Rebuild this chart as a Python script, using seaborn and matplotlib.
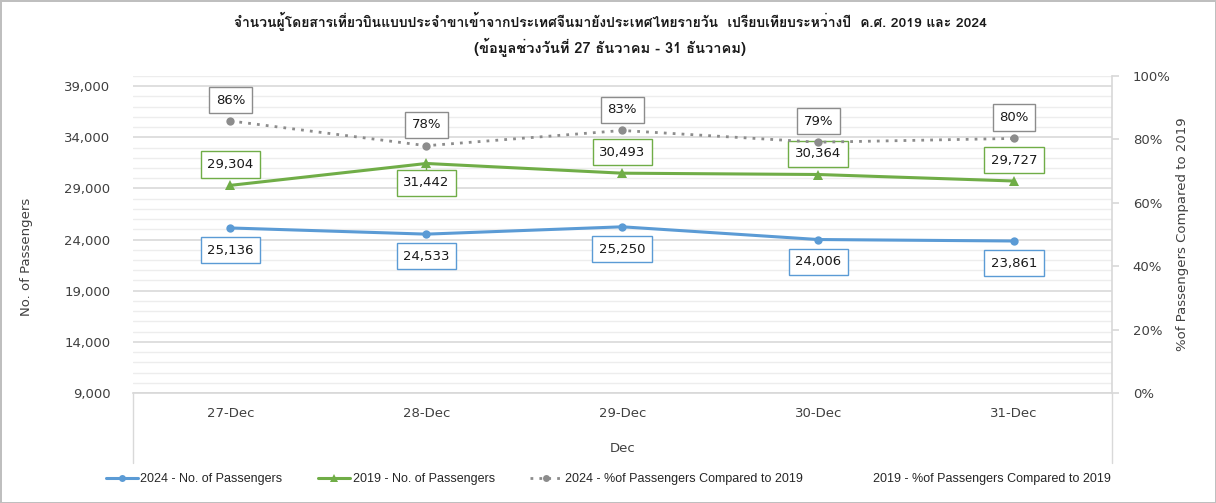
import numpy as np
import pandas as pd
import seaborn as sns
import matplotlib
matplotlib.use('Agg')
import matplotlib.pyplot as plt
from matplotlib import font_manager
from matplotlib.ft2font import FT2Font
from matplotlib.lines import Line2D
from matplotlib.ticker import FixedLocator, FuncFormatter

# data
days = ['27-Dec', '28-Dec', '29-Dec', '30-Dec', '31-Dec']
pax_2024 = [25136, 24533, 25250, 24006, 23861]
pax_2019 = [29304, 31442, 30493, 30364, 29727]
pct_2024 = [0.858, 0.780, 0.828, 0.791, 0.803]

title_1 = 'จำนวนผู้โดยสารเที่ยวบินแบบประจำขาเข้าจากประเทศจีนมายังประเทศไทยรายวัน  เปรียบเทียบระหว่างปี  ค.ศ. 2019 และ 2024'
title_2 = '(ข้อมูลช่วงวันที่ 27 ธันวาคม - 31 ธันวาคม)'

blue = '#5B9BD5'
green = '#70AD47'
grey = '#8C8C8C'

sns.set_theme(style='white')

# find a font that has Thai glyphs
thai_fonts = []
for fe in font_manager.fontManager.ttflist:
    try:
        if 0x0E08 in FT2Font(fe.fname).get_charmap():
            if fe.name not in thai_fonts:
                thai_fonts.append(fe.name)
    except Exception:
        pass
installed = {fe.name for fe in font_manager.fontManager.ttflist}
plt.rcParams['font.family'] = ['DejaVu Sans'] + thai_fonts
title_family = thai_fonts + ['DejaVu Sans']
narrow = 'Liberation Sans Narrow' if 'Liberation Sans Narrow' in installed else 'Liberation Sans'

df = pd.DataFrame({'day': days, 'p2024': pax_2024, 'p2019': pax_2019, 'pct': pct_2024})
df['x'] = np.arange(len(days))

fig = plt.figure(figsize=(12.16, 5.03), dpi=100)
fig.patch.set_edgecolor('#BFBFBF')
fig.patch.set_linewidth(2)
ax = fig.add_axes([0.109, 0.2187, 0.8055, 0.6303])
ax2 = ax.twinx()

sns.lineplot(data=df, x='x', y='p2024', ax=ax, color=blue, lw=2.2, marker='o',
             markersize=6, markeredgewidth=0, zorder=5)
sns.lineplot(data=df, x='x', y='p2019', ax=ax, color=green, lw=2.2, marker='^',
             markersize=7, markeredgewidth=0, zorder=5)
sns.lineplot(data=df, x='x', y='pct', ax=ax2, color=grey, lw=2, ls=(0, (1, 2.2)),
             marker='o', markersize=6, markeredgewidth=0, zorder=5)

ax.set_xlim(-0.5, 4.5)
ax.set_ylim(9000, 40000)
ax2.set_ylim(0, 1.0)

ax.yaxis.set_major_locator(FixedLocator(np.arange(9000, 39001, 5000)))
ax.yaxis.set_minor_locator(FixedLocator(np.arange(9000, 40001, 1000)))
ax.yaxis.set_major_formatter(FuncFormatter(lambda v, p: f'{v:,.0f}'))
ax.grid(which='major', axis='y', color='#D9D9D9', lw=1.2)
ax.grid(which='minor', axis='y', color='#EDEDED', lw=1)
ax.set_axisbelow(True)

ax2.yaxis.set_major_locator(FixedLocator(np.arange(0, 1.01, 0.2)))
ax2.yaxis.set_major_formatter(FuncFormatter(lambda v, p: f'{v:.0%}'))

ax.set_xticks(df['x'])
ax.set_xticklabels(days)
for s in ['top', 'left', 'right']:
    ax.spines[s].set_visible(False)
    ax2.spines[s].set_visible(False)
ax2.spines['right'].set_visible(True)
ax2.spines['right'].set_color('#D9D9D9')
ax.spines['bottom'].set_color('#D9D9D9')
ax2.spines['bottom'].set_visible(False)

ax.tick_params(axis='y', which='both', length=0, labelsize=9.5, pad=16, colors='#404040')
ax.tick_params(axis='x', length=0, labelsize=9.5, pad=10, colors='#404040')
ax2.tick_params(axis='y', length=5, direction='out', labelsize=9.5,
                pad=10, colors='#404040')
ax2.tick_params(axis='y', color='#D9D9D9')

ax.set_xlabel('Dec', fontsize=9.5, color='#404040', labelpad=16)
ax.set_ylabel('No. of Passengers', fontsize=9.5, color='#404040')
ax2.set_ylabel('%of Passengers Compared to 2019', fontsize=9.5, color='#404040', labelpad=4)
ax.yaxis.set_label_coords(-0.102, 0.43)

# category box lines under the plot
for xx in [0.0, 1.0]:
    ax.plot([xx, xx], [0, -0.22], transform=ax.transAxes, color='#D9D9D9', lw=1, clip_on=False)

def put_label(a, x, y, text, color, dy):
    a.annotate(text, (x, y), xytext=(0, dy), textcoords='offset points', ha='center',
               va='center', fontsize=9.5, color='#1a1a1a', zorder=10,
               bbox=dict(boxstyle='square,pad=0.5', fc='white', ec=color, lw=1))

for i in range(len(days)):
    put_label(ax, i, pax_2024[i], f'{pax_2024[i]:,}', blue, -16)
    put_label(ax, i, pax_2019[i], f'{pax_2019[i]:,}', green, -14 if i == 1 else 15)
    put_label(ax2, i, pct_2024[i], f'{pct_2024[i]:.0%}', grey, 15)
ax.plot([1, 1], [pax_2019[1], pax_2019[1] - 900], color=green, lw=1, zorder=4)

fig.text(0.502, 0.958, title_1, ha='center', va='center', fontsize=10,
         fontweight='bold', family=title_family, color='#1a1a1a')
fig.text(0.502, 0.905, title_2, ha='center', va='center', fontsize=10.5,
         fontweight='bold', family=title_family, color='#1a1a1a')

handles = [
    Line2D([], [], color=blue, lw=2.2, marker='o', markersize=5, markeredgewidth=0),
    Line2D([], [], color=green, lw=2.2, marker='^', markersize=6, markeredgewidth=0),
    Line2D([], [], color=grey, lw=2, ls=(0, (1, 2.2)), marker='o', markersize=5, markeredgewidth=0),
    Line2D([], [], color='none', lw=2),
]
labels = ['2024 - No. of Passengers', '2019 - No. of Passengers',
          '2024 - %of Passengers Compared to 2019', '2019 - %of Passengers Compared to 2019']
fig.legend(handles, labels, loc='center', ncol=4, frameon=False,
           prop={'family': narrow, 'size': 9},
           bbox_to_anchor=(0.5, 0.047), handlelength=2.6, handletextpad=0.2,
           columnspacing=2.8, labelcolor='#262626')

plt.savefig('out.png', dpi=100)
